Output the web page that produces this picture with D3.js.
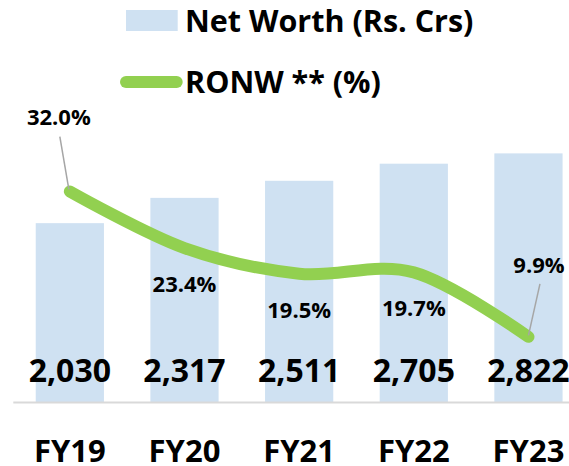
<!DOCTYPE html>
<html>
<head>
<meta charset="utf-8">
<script src="https://cdn.jsdelivr.net/npm/d3@7"></script>
<style>
  html, body { margin: 0; padding: 0; background: #ffffff; }
  svg { display: block; }
  text { font-family: "Open Sans", Lato, sans-serif; font-weight: bold; fill: #000; }
</style>
</head>
<body>
<svg id="chart" width="569" height="466"></svg>
<script>
// ---- data ----
const categories = ["FY19", "FY20", "FY21", "FY22", "FY23"];
const netWorth = [2030, 2317, 2511, 2705, 2822];
const ronw = [32.0, 23.4, 19.5, 19.7, 9.9];
const netWorthLabels = ["2,030", "2,317", "2,511", "2,705", "2,822"];
const ronwLabels = ["32.0%", "23.4%", "19.5%", "19.7%", "9.9%"];
const legendLabels = ["Net Worth (Rs. Crs)", "RONW ** (%)"];
// label placement for the RONW labels (leader = label pulled away with a leader line)
const ronwLabelPlacement = ["leaderUp", "below", "below", "below", "leaderUpRight"];

// ---- styles ----
const barColor = "#cfe1f2";
const lineColor = "#92d050";
const leaderColor = "#a6a6a6";
const axisColor = "#d9d9d9";
const fontFam = "'Open Sans', Lato, sans-serif";

const svg = d3.select("#chart");

const x = d3.scaleBand()
  .domain(categories)
  .range([12.8, 585.5])
  .paddingInner(0.405)
  .paddingOuter(0.2);

const baseY = 402;
const y = d3.scaleLinear().domain([0, 3000]).range([baseY, baseY - 264.3]);
const y2 = d3.scaleLinear().domain([0, 40]).range([baseY, baseY - 263.2]);

const cx = d => x(d) + x.bandwidth() / 2;

// bars
svg.append("g").selectAll("rect")
  .data(categories)
  .join("rect")
  .attr("x", d => x(d))
  .attr("y", (d, i) => y(netWorth[i]))
  .attr("width", x.bandwidth())
  .attr("height", (d, i) => y(0) - y(netWorth[i]))
  .attr("fill", barColor);

// x axis baseline + labels
const xAxis = d3.axisBottom(x).tickSize(0).tickPadding(0);
const gx = svg.append("g").attr("transform", `translate(0,${baseY})`).call(xAxis);
gx.select(".domain").attr("stroke", axisColor).attr("stroke-width", 2);
gx.selectAll(".tick text")
  .attr("y", 59.5)
  .attr("dy", 0)
  .style("font-family", fontFam)
  .style("font-weight", "bold")
  .style("font-size", "31px")
  .attr("fill", "#000");

// net worth value labels
svg.append("g").selectAll("text")
  .data(categories)
  .join("text")
  .attr("x", d => cx(d))
  .attr("y", y(0) - 20.3)
  .attr("text-anchor", "middle")
  .style("font-size", "32px")
  .text((d, i) => netWorthLabels[i]);

// RONW smoothed line
const line = d3.line()
  .x((d, i) => cx(categories[i]))
  .y(d => y2(d))
  .curve(d3.curveCardinal.tension(0));

svg.append("path")
  .datum(ronw)
  .attr("d", line)
  .attr("fill", "none")
  .attr("stroke", lineColor)
  .attr("stroke-width", 12)
  .attr("stroke-linecap", "round")
  .attr("stroke-linejoin", "round");

// RONW labels
const lblG = svg.append("g");
ronw.forEach((v, i) => {
  const px = cx(categories[i]);
  const py = y2(v);
  const place = ronwLabelPlacement[i];
  let tx = px, ty = py + 44;
  if (place === "leaderUp") {
    tx = px - 11; ty = py - 66;
    lblG.append("line")
      .attr("x1", px - 10).attr("y1", py - 54.7)
      .attr("x2", px - 1).attr("y2", py - 2)
      .attr("stroke", leaderColor).attr("stroke-width", 1.5);
  } else if (place === "leaderUpRight") {
    tx = px + 10.5; ty = py - 63.6;
    lblG.append("line")
      .attr("x1", px + 11.5).attr("y1", py - 53)
      .attr("x2", px).attr("y2", py - 1.5)
      .attr("stroke", leaderColor).attr("stroke-width", 1.5);
  }
  lblG.append("text")
    .attr("x", tx)
    .attr("y", ty)
    .attr("text-anchor", "middle")
    .style("font-size", "22px")
    .text(ronwLabels[i]);
});

// legend
const leg = svg.append("g");
leg.append("rect")
  .attr("x", 126).attr("y", 10)
  .attr("width", 51.7).attr("height", 21)
  .attr("fill", barColor);
leg.append("text")
  .attr("x", 185).attr("y", 31.7)
  .style("font-size", "30.5px")
  .text(legendLabels[0]);
leg.append("line")
  .attr("x1", 126).attr("y1", 82)
  .attr("x2", 176.7).attr("y2", 82)
  .attr("stroke", lineColor)
  .attr("stroke-width", 12)
  .attr("stroke-linecap", "round");
leg.append("text")
  .attr("x", 185).attr("y", 92.7)
  .style("font-size", "30.5px")
  .text(legendLabels[1]);
</script>
</body>
</html>
